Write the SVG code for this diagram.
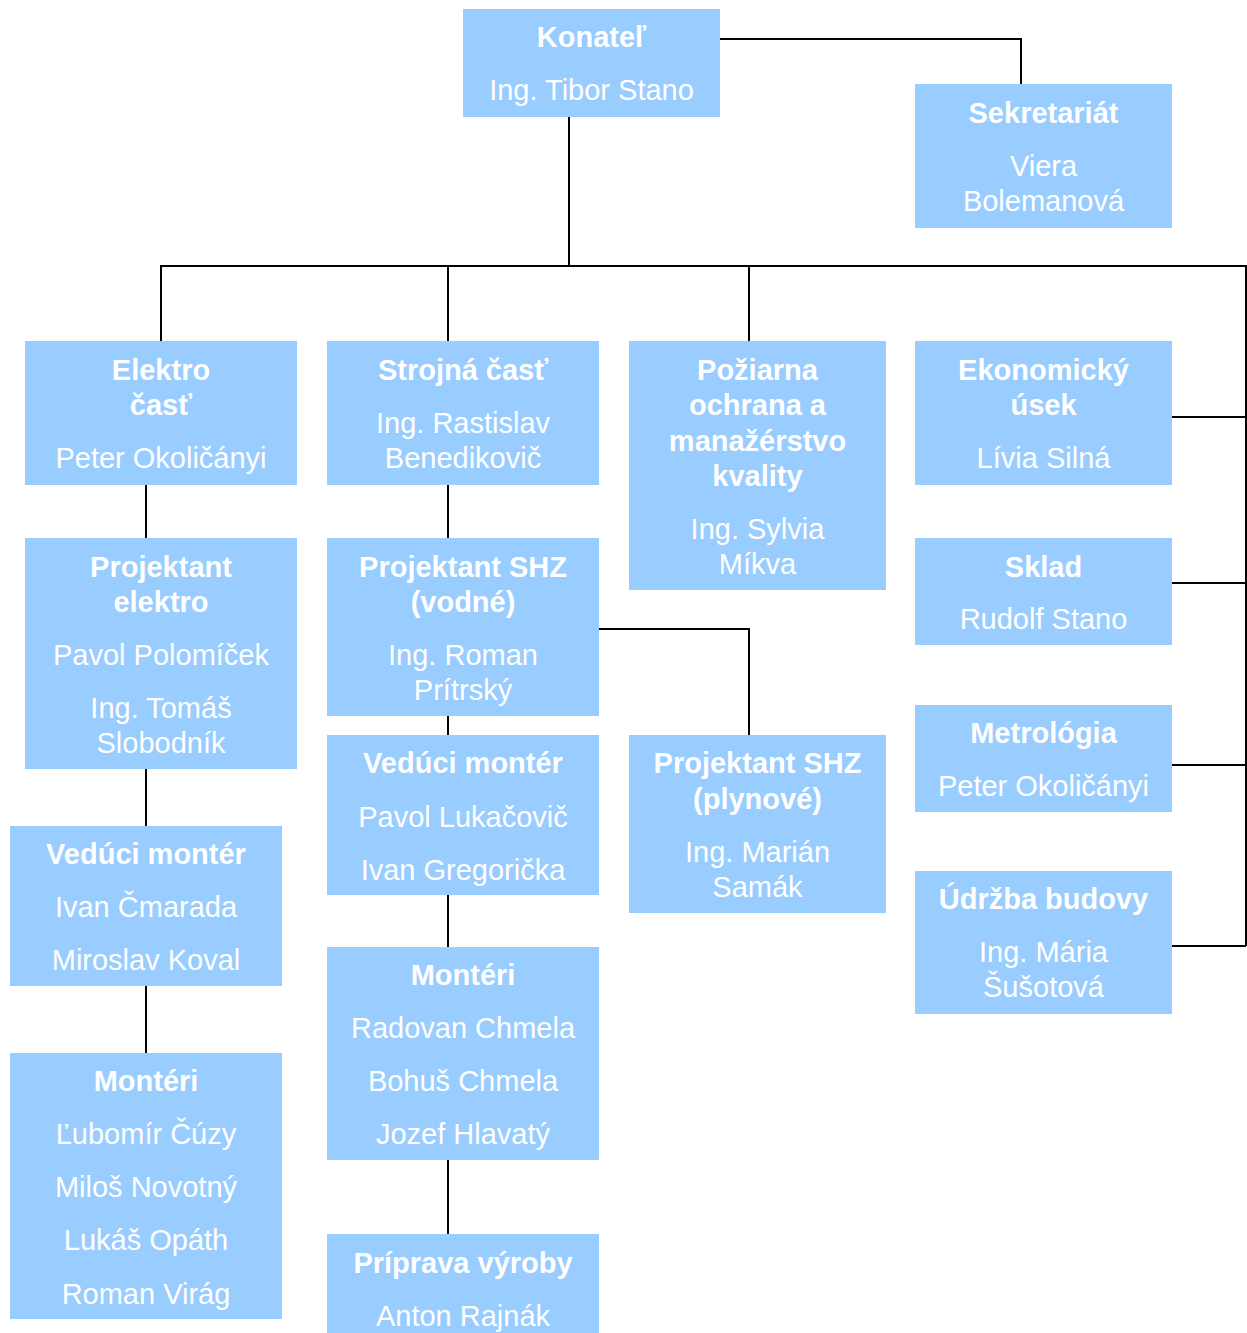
<svg xmlns="http://www.w3.org/2000/svg" width="1247" height="1333" viewBox="0 0 1247 1333">
<style>
.box{fill:#99CCFF}
text{font-family:"Liberation Sans",Arial,sans-serif;font-size:29px;fill:#ffffff;text-anchor:middle}
.b{font-weight:bold}
.c{fill:none;stroke:#000000;stroke-width:2}
</style>
<rect width="1247" height="1333" fill="#ffffff"/>
<g id="connectors">
<path class="c" d="M720 39H1021V84"/>
<path class="c" d="M569 117V266"/>
<path class="c" d="M161 341V266H1246V946"/>
<path class="c" d="M448 266V341"/>
<path class="c" d="M749 266V341"/>
<path class="c" d="M1172 417H1246"/>
<path class="c" d="M1172 583H1246"/>
<path class="c" d="M1172 765H1246"/>
<path class="c" d="M1172 946H1246"/>
<path class="c" d="M146 485V538"/>
<path class="c" d="M146 769V826"/>
<path class="c" d="M146 986V1053"/>
<path class="c" d="M448 485V538"/>
<path class="c" d="M448 716V735"/>
<path class="c" d="M448 895V947"/>
<path class="c" d="M448 1160V1234"/>
<path class="c" d="M599 629H749V735"/>
</g>
<g id="konatel">
<rect class="box" x="463" y="9" width="257" height="108"/>
<text class="b" x="591.5" y="47">Konateľ</text>
<text x="591.5" y="100">Ing. Tibor Stano</text>
</g>
<g id="sekretariat">
<rect class="box" x="915" y="84" width="257" height="144"/>
<text class="b" x="1043.5" y="123">Sekretariát</text>
<text x="1043.5" y="176">Viera</text>
<text x="1043.5" y="211">Bolemanová</text>
</g>
<g id="elektro">
<rect class="box" x="25" y="341" width="272" height="144"/>
<text class="b" x="161" y="380">Elektro</text>
<text class="b" x="161" y="415">časť</text>
<text x="161" y="468">Peter Okoličányi</text>
</g>
<g id="strojna">
<rect class="box" x="327" y="341" width="272" height="144"/>
<text class="b" x="463" y="380">Strojná časť</text>
<text x="463" y="433">Ing. Rastislav</text>
<text x="463" y="468">Benedikovič</text>
</g>
<g id="poziarna">
<rect class="box" x="629" y="341" width="257" height="249"/>
<text class="b" x="757.5" y="380">Požiarna</text>
<text class="b" x="757.5" y="415">ochrana a</text>
<text class="b" x="757.5" y="451">manažérstvo</text>
<text class="b" x="757.5" y="486">kvality</text>
<text x="757.5" y="539">Ing. Sylvia</text>
<text x="757.5" y="574">Míkva</text>
</g>
<g id="ekonomicky">
<rect class="box" x="915" y="341" width="257" height="144"/>
<text class="b" x="1043.5" y="380">Ekonomický</text>
<text class="b" x="1043.5" y="415">úsek</text>
<text x="1043.5" y="468">Lívia Silná</text>
</g>
<g id="sklad">
<rect class="box" x="915" y="538" width="257" height="107"/>
<text class="b" x="1043.5" y="577">Sklad</text>
<text x="1043.5" y="629">Rudolf Stano</text>
</g>
<g id="metrologia">
<rect class="box" x="915" y="705" width="257" height="107"/>
<text class="b" x="1043.5" y="743">Metrológia</text>
<text x="1043.5" y="796">Peter Okoličányi</text>
</g>
<g id="udrzba">
<rect class="box" x="915" y="871" width="257" height="143"/>
<text class="b" x="1043.5" y="909">Údržba budovy</text>
<text x="1043.5" y="962">Ing. Mária</text>
<text x="1043.5" y="997">Šušotová</text>
</g>
<g id="projektant-elektro">
<rect class="box" x="25" y="538" width="272" height="231"/>
<text class="b" x="161" y="577">Projektant</text>
<text class="b" x="161" y="612">elektro</text>
<text x="161" y="665">Pavol Polomíček</text>
<text x="161" y="718">Ing. Tomáš</text>
<text x="161" y="753">Slobodník</text>
</g>
<g id="projektant-shz-vodne">
<rect class="box" x="327" y="538" width="272" height="178"/>
<text class="b" x="463" y="577">Projektant SHZ</text>
<text class="b" x="463" y="612">(vodné)</text>
<text x="463" y="665">Ing. Roman</text>
<text x="463" y="700">Prítrský</text>
</g>
<g id="veduci-monter-stred">
<rect class="box" x="327" y="735" width="272" height="160"/>
<text class="b" x="463" y="773">Vedúci montér</text>
<text x="463" y="827">Pavol Lukačovič</text>
<text x="463" y="880">Ivan Gregorička</text>
</g>
<g id="projektant-shz-plynove">
<rect class="box" x="629" y="735" width="257" height="178"/>
<text class="b" x="757.5" y="773">Projektant SHZ</text>
<text class="b" x="757.5" y="809">(plynové)</text>
<text x="757.5" y="862">Ing. Marián</text>
<text x="757.5" y="897">Samák</text>
</g>
<g id="veduci-monter-elektro">
<rect class="box" x="10" y="826" width="272" height="160"/>
<text class="b" x="146" y="864">Vedúci montér</text>
<text x="146" y="917">Ivan Čmarada</text>
<text x="146" y="970">Miroslav Koval</text>
</g>
<g id="monteri-elektro">
<rect class="box" x="10" y="1053" width="272" height="266"/>
<text class="b" x="146" y="1091">Montéri</text>
<text x="146" y="1144">Ľubomír Čúzy</text>
<text x="146" y="1197">Miloš Novotný</text>
<text x="146" y="1250">Lukáš Opáth</text>
<text x="146" y="1304">Roman Virág</text>
</g>
<g id="monteri-stred">
<rect class="box" x="327" y="947" width="272" height="213"/>
<text class="b" x="463" y="985">Montéri</text>
<text x="463" y="1038">Radovan Chmela</text>
<text x="463" y="1091">Bohuš Chmela</text>
<text x="463" y="1144">Jozef Hlavatý</text>
</g>
<g id="priprava-vyroby">
<rect class="box" x="327" y="1234" width="272" height="99"/>
<text class="b" x="463" y="1273">Príprava výroby</text>
<text x="463" y="1326">Anton Rajnák</text>
</g>
</svg>
